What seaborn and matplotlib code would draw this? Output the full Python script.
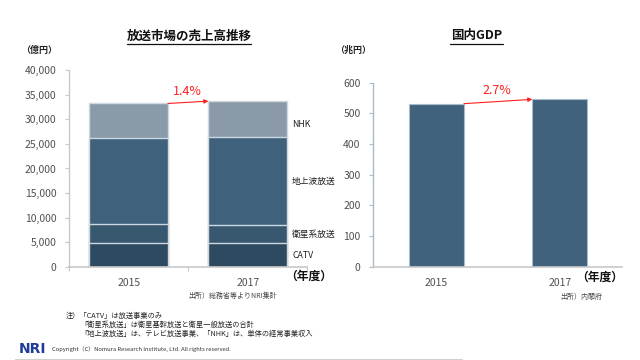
import matplotlib
matplotlib.use("Agg")
import matplotlib.pyplot as plt
from matplotlib.lines import Line2D
import numpy as np
import seaborn as sns

# 放送市場の売上高 (億円)
years = ["2015", "2017"]
catv = [4900, 4750]
satellite = [3780, 3730]
terrestrial = [17500, 17960]
nhk = [7050, 7260]
segment_names = ["CATV", "衛星系放送", "地上波放送", "NHK"]
segment_colors = ["#2e4a60", "#385870", "#3f617c", "#8a9aa8"]

# 国内GDP (兆円)
gdp = [532, 546]
gdp_color = "#41627d"

market_growth = "1.4%"
gdp_growth = "2.7%"


def main():
  sns.set_style("white")
  plt.rcParams["font.family"] = ["Noto Sans CJK JP", "DejaVu Sans"]

  fig = plt.figure(figsize=(6.4, 3.6), dpi=100)
  tick_col = "#505050"

  # ---- left: stacked bars ----
  ax1 = fig.add_axes([0.108, 0.259, 0.372, 0.546])
  segs = np.array([catv, satellite, terrestrial, nhk])
  cum = segs.cumsum(axis=0)
  # draw from the top of the stack down so lower layers cover upper ones
  for i in range(len(segs) - 1, -1, -1):
    sns.barplot(x=years, y=cum[i], color=segment_colors[i], saturation=1,
                width=0.66, edgecolor="#cdd8e1", linewidth=1.0, ax=ax1)
  ax1.set_xlim(-0.5, 1.5)
  ax1.set_ylim(0, 40000)
  ax1.set_yticks(range(0, 40001, 5000))
  ax1.set_yticklabels([f"{v:,}" for v in range(0, 40001, 5000)])
  ax1.set_xticks([-0.5, 0.5, 1.5], minor=True)
  ax1.set_xlabel("")
  ax1.set_ylabel("")

  total = cum[-1]
  ax1.annotate("", xy=(0.67, total[1]), xytext=(0.33, total[0]),
               arrowprops=dict(arrowstyle="-|>", color="#ff2020", lw=0.8,
                               shrinkA=0, shrinkB=0, mutation_scale=6))
  ax1.text(0.49, total[0] + 2500, market_growth, color="#ff2020",
           fontsize=9, ha="center", va="center")

  lows = np.vstack([np.zeros(2), cum[:-1]])
  for i, name in enumerate(segment_names):
    mid = (lows[i][1] + cum[i][1]) / 2
    if name == "NHK":
      mid -= 1200
    ax1.text(0.937, mid, name, transform=ax1.get_yaxis_transform(),
             fontsize=6.3, color="#202020", va="center", ha="left")

  # ---- right: GDP ----
  ax2 = fig.add_axes([0.583, 0.259, 0.389, 0.511])
  sns.barplot(x=years, y=gdp, color=gdp_color, saturation=1, width=0.446,
              edgecolor="#a9bccb", linewidth=0.8, ax=ax2)
  ax2.set_xlim(-0.513, 1.504)
  ax2.set_ylim(0, 600)
  ax2.set_yticks(range(0, 601, 100))
  ax2.set_xlabel("")
  ax2.set_ylabel("")
  ax2.annotate("", xy=(0.777, gdp[1]), xytext=(0.223, gdp[0]),
               arrowprops=dict(arrowstyle="-|>", color="#ff2020", lw=0.8,
                               shrinkA=0, shrinkB=0, mutation_scale=6))
  ax2.text(0.49, gdp[1] + 30, gdp_growth, color="#ff2020",
           fontsize=9, ha="center", va="center")

  for ax, lcol in [(ax1, "#c8c8c8"), (ax2, "#a9bccb")]:
    for s in ["top", "right"]:
      ax.spines[s].set_visible(False)
    ax.spines["left"].set_color(lcol)
    ax.spines["left"].set_linewidth(1.0)
    ax.spines["bottom"].set_color("#c8c8c8")
    ax.spines["bottom"].set_linewidth(1.2)
    ax.tick_params(axis="y", length=3, width=0.8, color=lcol, pad=6,
                   labelsize=7.5, labelcolor=tick_col, left=True)
    ax.tick_params(axis="x", length=0, pad=8, labelsize=7.5,
                   labelcolor=tick_col)
  ax1.tick_params(axis="x", which="minor", length=3, width=0.8,
                  color="#c8c8c8", bottom=True, direction="out")

  # ---- titles and notes ----
  fig.text(189 / 640, 1 - 36 / 360, "放送市場の売上高推移", fontsize=9,
           weight="bold", ha="center", va="center", color="#111111")
  fig.add_artist(Line2D([127 / 640, 251 / 640], [1 - 43.5 / 360] * 2,
                        color="#111111", lw=0.9))
  fig.text(476.5 / 640, 1 - 36 / 360, "国内GDP", fontsize=9, weight="bold",
           ha="center", va="center", color="#111111")
  fig.add_artist(Line2D([450 / 640, 503 / 640], [1 - 43.5 / 360] * 2,
                        color="#111111", lw=0.9))

  fig.text(21 / 640, 1 - 50.5 / 360, "（億円）", fontsize=6.5, weight="bold",
           ha="left", va="center", color="#222222")
  fig.text(335 / 640, 1 - 50.5 / 360, "（兆円）", fontsize=6.5, weight="bold",
           ha="left", va="center", color="#222222")
  fig.text(285 / 640, 1 - 276 / 360, "（年度）", fontsize=8.5, weight="bold",
           ha="left", va="center", color="#111111")
  fig.text(576 / 640, 1 - 277 / 360, "（年度）", fontsize=8.5, weight="bold",
           ha="left", va="center", color="#111111")

  fig.text(188 / 640, 1 - 296 / 360, "出所）総務省等よりNRI集計", fontsize=5,
           ha="left", va="center", color="#444444")
  fig.text(560 / 640, 1 - 297 / 360, "出所）内閣府", fontsize=5,
           ha="left", va="center", color="#444444")

  fig.text(66 / 640, 1 - 316 / 360, "注）「CATV」は放送事業のみ", fontsize=5.2,
           ha="left", va="center", color="#222222")
  fig.text(80 / 640, 1 - 325 / 360, "「衛星系放送」は衛星基幹放送と衛星一般放送の合計",
           fontsize=5.2, ha="left", va="center", color="#222222")
  fig.text(80 / 640, 1 - 334 / 360,
           "「地上波放送」は、テレビ放送事業、「NHK」は、単体の経常事業収入",
           fontsize=5.2, ha="left", va="center", color="#222222")

  fig.text(19 / 640, 1 - 349 / 360, "NRI", fontsize=10, weight="bold",
           family="DejaVu Sans", ha="left", va="center", color="#1f3c9a")
  fig.text(52 / 640, 1 - 349.5 / 360,
           "Copyright（C）Nomura Research Institute, Ltd. All rights reserved.",
           fontsize=4.2, ha="left", va="center", color="#333333")
  fig.add_artist(Line2D([15 / 640, 462 / 640], [1 - 359 / 360] * 2,
                        color="#d0d0d0", lw=0.8))

  fig.savefig("out.png", dpi=100)


if __name__ == "__main__":
  main()
